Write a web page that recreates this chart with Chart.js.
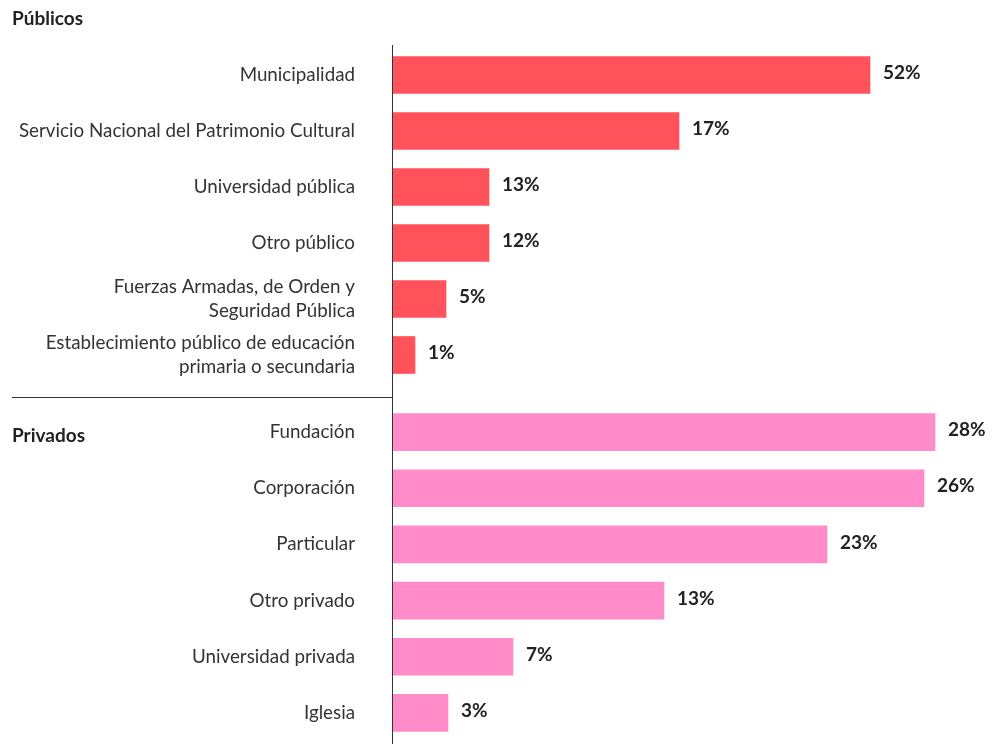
<!DOCTYPE html>
<html lang="es">
<head>
<meta charset="utf-8">
<script src="https://cdn.jsdelivr.net/npm/chart.js@4"></script>
<style>
  body { margin: 0; background: #fff; }
  #wrap { position: relative; width: 992px; height: 744px; overflow: hidden; font-family: Lato, sans-serif; }
  .grupo { position: absolute; left: 12px; font-weight: bold; font-size: 19px; color: #222; }
  canvas { position: absolute; left: 0; }
  #publicos { top: 0; }
  #privados { top: 397px; }
</style>
</head>
<body>
<div id="wrap">
  <canvas id="publicos" width="992" height="400"></canvas>
  <canvas id="privados" width="992" height="347"></canvas>
  <div class="grupo" style="top:6px">Públicos</div>
  <div class="grupo" style="top:423px">Privados</div>
</div>
<script>
// bar lengths (arbitrary units, axis 0-599) and the printed labels
const categoriasPublicos = [
  "Municipalidad",
  "Servicio Nacional del Patrimonio Cultural",
  "Universidad pública",
  "Otro público",
  ["Fuerzas Armadas, de Orden y", "Seguridad Pública"],
  ["Establecimiento público de educación", "primaria o secundaria"],
];
const valoresPublicos = [477, 286, 96, 96, 53, 22];
const etiquetasPublicos = ["52%", "17%", "13%", "12%", "5%", "1%"];

const categoriasPrivados = [
  "Fundación",
  "Corporación",
  "Particular",
  "Otro privado",
  "Universidad privada",
  "Iglesia",
];
const valoresPrivados = [542, 531, 434, 271, 120, 55];
const etiquetasPrivados = ["28%", "26%", "23%", "13%", "7%", "3%"];

const rojo = "#ff525b";
const rosado = "#ff8cc8";
const fuente = "Lato, sans-serif";

// draws % labels after each bar, plus the axis / separator lines
const extras = {
  id: "extras",
  afterDatasetsDraw(chart, args, opts) {
    const ctx = chart.ctx;
    const area = chart.chartArea;
    ctx.save();
    ctx.fillStyle = "#222";
    ctx.font = "bold 19px " + fuente;
    ctx.textAlign = "left";
    ctx.textBaseline = "middle";
    chart.getDatasetMeta(0).data.forEach((bar, i) => {
      ctx.fillText(opts.etiquetas[i], bar.x + 13, bar.y - 2);
    });
    ctx.strokeStyle = "#333";
    ctx.lineWidth = 1;
    ctx.beginPath();
    ctx.moveTo(area.left - 0.5, opts.lineaTop(area));
    ctx.lineTo(area.left - 0.5, chart.height);
    if (opts.separador) {
      const y = area.bottom + 14.5;
      ctx.moveTo(12, y);
      ctx.lineTo(area.left, y);
    }
    ctx.stroke();
    ctx.restore();
  },
};

function hacerGrafico(id, categorias, valores, etiquetas, color, padTop, padBottom, separador, lineaTop) {
  return new Chart(document.getElementById(id), {
    type: "bar",
    data: {
      labels: categorias,
      datasets: [{ data: valores, backgroundColor: color, barThickness: 37 }],
    },
    options: {
      indexAxis: "y",
      responsive: false,
      animation: false,
      layout: { padding: { top: padTop, bottom: padBottom, left: 0, right: 0 } },
      plugins: {
        legend: { display: false },
        tooltip: { enabled: false },
        extras: { etiquetas: etiquetas, separador: separador, lineaTop: lineaTop },
      },
      scales: {
        x: { display: false, min: 0, max: 599 },
        y: {
          grid: { display: false, drawTicks: false },
          border: { display: false },
          ticks: { padding: 38, color: "#333", font: { family: fuente, size: 18.8, lineHeight: 1.3 } },
          afterFit(scale) {
            scale.width = 393;
            // labels may overhang, don't shrink the plot for them
            scale.paddingTop = 0;
            scale.paddingBottom = 0;
          },
        },
      },
    },
    plugins: [extras],
  });
}

hacerGrafico("publicos", categoriasPublicos, valoresPublicos, etiquetasPublicos, rojo, 47, 17, true, (a) => a.top - 2);
hacerGrafico("privados", categoriasPrivados, valoresPrivados, etiquetasPrivados, rosado, 7, 3, false, () => 0);
</script>
</body>
</html>
